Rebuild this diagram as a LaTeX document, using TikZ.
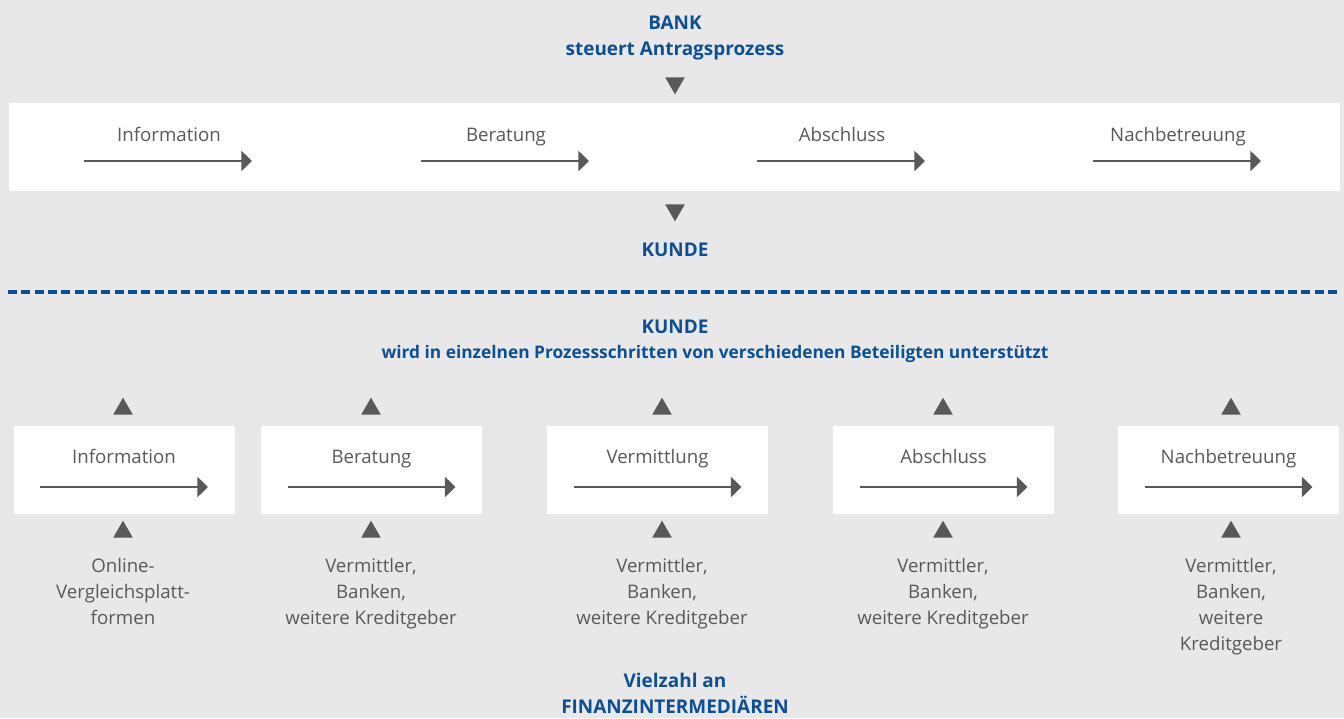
\documentclass[tikz,border=0pt]{standalone}
\usepackage{fontspec}
\setmainfont{Open Sans}
\usetikzlibrary{positioning, arrows.meta, shapes.geometric}

\definecolor{bg}{HTML}{E8E8E8}
\definecolor{bankblue}{HTML}{0B4F97}
\definecolor{stepgray}{HTML}{595959}

\tikzset{
  head/.style={font=\fontsize{14.2}{19.5}\selectfont\bfseries, text=bankblue, align=center, inner sep=0pt},
  steplabel/.style={font=\fontsize{14}{19.5}\selectfont, text=stepgray, inner sep=0pt, anchor=base},
  party/.style={font=\fontsize{14}{19.5}\selectfont, text=stepgray, align=center, inner sep=0pt, anchor=north},
  flow/.style={-{Triangle[length=8pt,width=15pt]}, line width=2.2pt, draw=stepgray},
  marker/.style={regular polygon, regular polygon sides=3, fill=stepgray, minimum size=17pt, inner sep=0pt},
  markerdown/.style={marker, shape border rotate=180},
  stepbox/.style={fill=white, minimum width=165.75pt, minimum height=66pt, inner sep=0pt}
}

\begin{document}
\begin{tikzpicture}[x=0.75pt,y=-0.75pt]
\fill[bg] (0,0) rectangle (1344,718);
\useasboundingbox (0,0) rectangle (1344,718);

% bank leads the whole process
\node[head] (bank) at (675,38) {BANK\\steuert Antragsprozess};
\node[markerdown] (bankdown) at (675,83) {};
\fill[white] (9,103) rectangle (1340,191);
\foreach \x/\t [count=\i] in {169/Information, 506/Beratung, 842/Abschluss, 1178/Nachbetreuung}{
  \node[steplabel] (top\i) at (\x,141) {\t};
  \coordinate (top\i-s) at (\x-85,161);
  \coordinate (top\i-e) at (\x+83,161);
  \draw[flow] (top\i-s) -- (top\i-e);
}
\node[markerdown] (kundedown) at (675,210) {};
\node[head] (kunde1) at (675,250) {KUNDE};

\coordinate (sepL) at (8,292);
\coordinate (sepR) at (1340,292);
\draw[bankblue, line width=2.5pt, dash pattern=on 6.75pt off 3.25pt] (sepL) -- (sepR);

% customer with many intermediaries
\node[head] (kunde2) at (675,327) {KUNDE};
\node[head, font=\fontsize{13}{19.5}\selectfont\bfseries] (support) at (715,354) {wird in einzelnen Prozessschritten von verschiedenen Beteiligten unterstützt};
\foreach \cx/\tx/\t/\p [count=\i] in {
  124/123/Information/{Online-\\Vergleichsplatt-\\formen},
  371.5/371/Beratung/{Vermittler,\\Banken,\\weitere Kreditgeber},
  657.5/662/Vermittlung/{Vermittler,\\Banken,\\weitere Kreditgeber},
  943.5/943/Abschluss/{Vermittler,\\Banken,\\weitere Kreditgeber},
  1228.5/1231/Nachbetreuung/{Vermittler,\\Banken,\\weitere\\Kreditgeber}}{
  \node[marker] (up\i) at (\tx,409) {};
  \node[stepbox] (box\i) at (\cx,470) {};
  \node[steplabel] (step\i) at (\cx,463) {\t};
  \coordinate (step\i-s) at (\cx-84,487);
  \coordinate (step\i-e) at (\cx+84,487);
  \draw[flow] (step\i-s) -- (step\i-e);
  \node[marker] (from\i) at (\tx,532) {};
  \node[party] (party\i) at (\tx,558) {\p};
}
\node[head] (vielzahl) at (675,693) {Vielzahl an\\FINANZINTERMEDIÄREN};
\end{tikzpicture}
\end{document}
